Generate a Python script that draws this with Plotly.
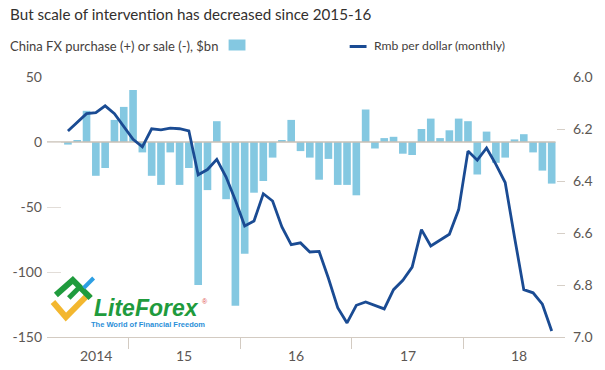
import plotly.graph_objects as go

# ---------------- data ----------------
months = [
    "2014-06", "2014-07", "2014-08", "2014-09", "2014-10", "2014-11", "2014-12",
    "2015-01", "2015-02", "2015-03", "2015-04", "2015-05", "2015-06",
    "2015-07", "2015-08", "2015-09", "2015-10", "2015-11", "2015-12",
    "2016-01", "2016-02", "2016-03", "2016-04", "2016-05", "2016-06",
    "2016-07", "2016-08", "2016-09", "2016-10", "2016-11", "2016-12",
    "2017-01", "2017-02", "2017-03", "2017-04", "2017-05", "2017-06",
    "2017-07", "2017-08", "2017-09", "2017-10", "2017-11", "2017-12",
    "2018-01", "2018-02", "2018-03", "2018-04", "2018-05", "2018-06",
    "2018-07", "2018-08", "2018-09", "2018-10",
]

fx_purchase_bn = [
    -2, 1, 24, -26, -20, 17, 27,
    40, -8, -26, -33, -8, -33, -20, -110, -37, 16, -44, -126,
    -86, -39, -30, -12, 1.5, 17, -7, -12, -29, -13, -33, -33,
    -41, 25, -5, 3, 4, -9, -10, 10, 18, 3, 9, 18,
    16, -25, 8, -16, -12, 2, 6, -8, -22, -32,
]

rmb_per_dollar = [
    6.208, 6.175, 6.141, 6.137, 6.111, 6.141, 6.192,
    6.240, 6.269, 6.199, 6.203, 6.197, 6.199, 6.207, 6.376, 6.356, 6.317, 6.385, 6.474,
    6.573, 6.554, 6.449, 6.477, 6.577, 6.645, 6.638, 6.673, 6.671, 6.774, 6.887, 6.946,
    6.878, 6.865, 6.878, 6.892, 6.818, 6.782, 6.731, 6.587, 6.650, 6.628, 6.605, 6.510,
    6.285, 6.320, 6.273, 6.336, 6.406, 6.615, 6.818, 6.830, 6.874, 6.977,
]

left_tickvals = [-150, -100, -50, 0, 50]
left_ticktext = ["-150", "-100", "-50", "0", "50"]
right_tickvals = [6.0, 6.2, 6.4, 6.6, 6.8, 7.0]
right_ticktext = ["6.0", "6.2", "6.4", "6.6", "6.8", "7.0"]
year_labels = ["2014", "15", "16", "17", "18"]

title_text = "But scale of intervention has decreased since 2015-16"
legend_bars = "China FX purchase (+) or sale (-), $bn"
legend_line = "Rmb per dollar (monthly)"

# ---------------- helpers ----------------
def month_index(s):
    y, m = s.split("-")
    return (int(y) - 2015) * 12 + int(m) - 1

xs = [month_index(m) for m in months]

W, H = 605, 370
L, R, T, B = 43, 40, 77, 33
PW, PH = W - L - R, H - T - B
X_RANGE = [-9.25, 46.43]


def px(x):
    return (x - L) / PW


def py(y):
    return (H - B - y) / PH


BAR_COL = "#84c8e1"
LINE_COL = "#1a4b93"
AXIS_COL = "#d3cbc2"
TICK_FONT = dict(family="Lato", size=14, color="#5c5753")
TEXT_FONT = "Lato"

fig = go.Figure()

fig.add_trace(go.Bar(
    x=xs, y=fx_purchase_bn, width=0.82,
    marker=dict(color=BAR_COL, line=dict(width=0)),
    yaxis="y", hoverinfo="skip",
))

# zero line (drawn between bars and the Rmb line)
fig.add_trace(go.Scatter(
    x=[X_RANGE[0], xs[-1] + 0.41], y=[0, 0], mode="lines",
    line=dict(color="#c9c0b6", width=1.6), yaxis="y", hoverinfo="skip",
))

fig.add_trace(go.Scatter(
    x=xs, y=rmb_per_dollar, mode="lines",
    line=dict(color=LINE_COL, width=2.8), yaxis="y2", hoverinfo="skip",
))

year_bounds = [-0.5, 11.5, 23.5, 35.5]

fig.update_layout(
    width=W, height=H,
    margin=dict(l=L, r=R, t=T, b=B, pad=0),
    paper_bgcolor="white", plot_bgcolor="white",
    showlegend=False,
    font=dict(family=TEXT_FONT),
    xaxis=dict(
        range=X_RANGE, showgrid=False, zeroline=False,
        showline=True, linecolor=AXIS_COL, linewidth=1,
        tickvals=year_bounds, ticks="outside", ticklen=11,
        tickcolor=AXIS_COL, tickwidth=1, showticklabels=False,
    ),
    yaxis=dict(
        range=[-150, 50], showgrid=False, zeroline=False, showline=False,
        tickvals=left_tickvals, ticktext=left_ticktext,
        ticks="inside", ticklen=14, tickcolor="#e2ddd8", tickwidth=1,
        tickfont=TICK_FONT, ticklabelstandoff=4,
    ),
    yaxis2=dict(
        range=[7.0, 6.0], overlaying="y", side="right",
        showgrid=False, zeroline=False, showline=False,
        tickvals=right_tickvals, ticktext=right_ticktext,
        ticks="inside", ticklen=8, tickcolor="#d6cfc7", tickwidth=1,
        tickfont=TICK_FONT, ticklabelstandoff=7,
    ),
)

annotations = []
# title
annotations.append(dict(
    text=title_text, xref="paper", yref="paper", x=px(4), y=py(14),
    xanchor="left", yanchor="middle", showarrow=False,
    font=dict(family=TEXT_FONT, size=15.2, color="#33302e"),
))
# legend texts
annotations.append(dict(
    text=legend_bars, xref="paper", yref="paper", x=px(4), y=py(46),
    xanchor="left", yanchor="middle", showarrow=False,
    font=dict(family=TEXT_FONT, size=13, color="#45403c"),
))
annotations.append(dict(
    text=legend_line, xref="paper", yref="paper", x=px(371), y=py(46),
    xanchor="left", yanchor="middle", showarrow=False,
    font=dict(family=TEXT_FONT, size=12.2, color="#45403c"),
))
# year labels (2014 centred on the visible part of that year)
first_year_center = (xs[0] - 0.5 + year_bounds[0]) / 2
label_x = [first_year_center] + [b + 6 for b in year_bounds]
for lab, xv in zip(year_labels, label_x):
    annotations.append(dict(
        text=lab, xref="x", yref="paper", x=xv, y=py(355),
        xanchor="center", yanchor="middle", showarrow=False,
        font=TICK_FONT,
    ))

# watermark logo text
annotations.append(dict(
    text="<b><i>LiteForex</i></b>", xref="paper", yref="paper", x=px(88), y=py(308),
    xanchor="left", yanchor="middle", showarrow=False,
    font=dict(family="Liberation Sans", size=23, color="#1f9b3d"),
))
annotations.append(dict(
    text="®", xref="paper", yref="paper", x=px(197), y=py(301),
    xanchor="left", yanchor="middle", showarrow=False,
    font=dict(family="Liberation Sans", size=7, color="#e05050"),
))
annotations.append(dict(
    text="<b>The World of Financial Freedom</b>", xref="paper", yref="paper",
    x=px(85), y=py(324), xanchor="left", yanchor="middle", showarrow=False,
    font=dict(family="Liberation Sans", size=7.5, color="#2b8fd8"),
))
fig.update_layout(annotations=annotations)


def path(points):
    return "M " + " L ".join(f"{px(a):.4f},{py(b):.4f}" for a, b in points)


shapes = [
    # legend swatches
    dict(type="rect", xref="paper", yref="paper", x0=px(226), x1=px(243),
         y0=py(50.5), y1=py(39.5), fillcolor=BAR_COL, line=dict(width=0)),
    dict(type="line", xref="paper", yref="paper", x0=px(348), x1=px(365),
         y0=py(46.5), y1=py(46.5), line=dict(color=LINE_COL, width=3)),
    # logo icon
    dict(type="path", xref="paper", yref="paper",
         path=path([(49, 302), (62, 317), (86, 293)]),
         line=dict(color="#f3b72f", width=6)),
    dict(type="path", xref="paper", yref="paper",
         path=path([(52, 295), (69, 280), (87, 298)]),
         line=dict(color="#1f9b3d", width=6)),
    dict(type="path", xref="paper", yref="paper",
         path=path([(65, 298), (76, 287)]),
         line=dict(color="#1f9b3d", width=5)),
    dict(type="path", xref="paper", yref="paper",
         path=path([(80, 288), (90, 278)]),
         line=dict(color="#2d9fe3", width=4)),
]
fig.update_layout(shapes=shapes)

fig.write_html(
    "out.html",
    config={"displayModeBar": False},
    post_script="document.body.style.margin='0';document.body.style.overflow='hidden';",
)
